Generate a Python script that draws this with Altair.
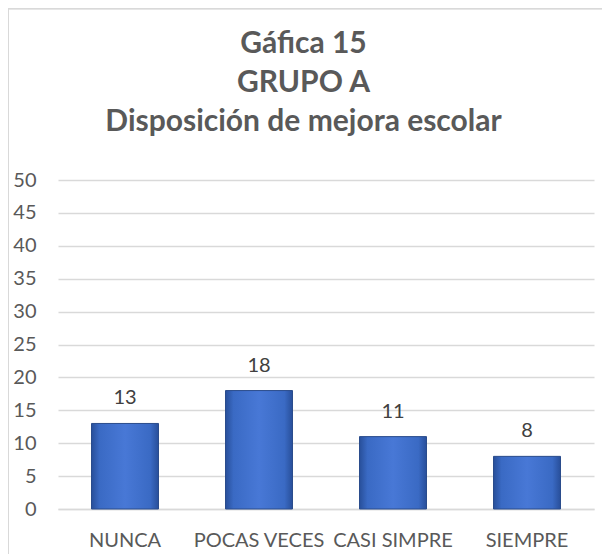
import altair as alt
import pandas as pd

categories = ["NUNCA", "POCAS VECES", "CASI SIMPRE", "SIEMPRE"]
values = [13, 18, 11, 8]
y_ticks = [0, 5, 10, 15, 20, 25, 30, 35, 40, 45, 50]
title_lines = ["Gáfica 15", "GRUPO A", "Disposición de mejora escolar"]

df = pd.DataFrame({"cat": categories, "val": values})

TXT = "#595959"
FONT = "Lato"

grad = alt.Gradient(
    gradient="linear",
    stops=[
        alt.GradientStop(color="#284f9a", offset=0),
        alt.GradientStop(color="#3a6ac4", offset=0.12),
        alt.GradientStop(color="#4878d6", offset=0.5),
        alt.GradientStop(color="#3a6ac4", offset=0.88),
        alt.GradientStop(color="#284f9a", offset=1),
    ],
    x1=0, x2=1, y1=0, y2=0,
)

yscale = alt.Scale(domain=[0, 50], nice=False)

x = alt.X("cat:N", sort=categories, title=None,
          scale=alt.Scale(paddingInner=0.5, paddingOuter=0.25),
          axis=alt.Axis(labelAngle=0, ticks=False, labelPadding=21,
                        domainColor="#d9d9d9", domainWidth=1.5,
                        labelFontSize=20, labelColor=TXT, labelFont=FONT,
                        labelOverlap=False))
y = alt.Y("val:Q", title=None, scale=yscale,
          axis=alt.Axis(values=y_ticks, ticks=False, domain=False,
                        labelPadding=22, gridColor="#d9d9d9", gridWidth=1.5,
                        labelFontSize=20, labelColor=TXT, labelFont=FONT,
                        labelOverlap=False))

bars = alt.Chart(df).mark_bar(color=grad, stroke="#2a4c8c", strokeWidth=1).encode(x=x, y=y)
labels = alt.Chart(df).mark_text(baseline="alphabetic", dy=-19, fontSize=20,
                                 color="#404040", font=FONT).encode(
    x=x, y=y, text="val:Q")

title_df = pd.DataFrame({"t": title_lines})
title_layers = []
for i, line in enumerate(title_lines):
    title_layers.append(
        alt.Chart(title_df.iloc[[i]]).mark_text(
            fontSize=30, font=FONT, fontWeight="bold", color=TXT,
            align="center", baseline="alphabetic"
        ).encode(text="t:N", x=alt.value(245.5), y=alt.value(-127 + 39 * i))
    )

border_left = alt.Chart(df).mark_rule(color="#d9d9d9", strokeWidth=1.5).encode(
    x=alt.value(-50), y=alt.value(-171.5), y2=alt.value(400))
border_top = alt.Chart(df).mark_rule(color="#d9d9d9", strokeWidth=1.5).encode(
    x=alt.value(-50), x2=alt.value(560), y=alt.value(-171.5))

chart = alt.layer(bars, labels, border_left, border_top, *title_layers).properties(
    width=536, height=329,
    autosize=alt.AutoSizeParams(type="none"),
    padding={"left": 50, "top": 172, "right": 8, "bottom": 46},
).configure_view(stroke=None)

chart.save("out.html", embed_options={"renderer": "svg", "actions": False})
